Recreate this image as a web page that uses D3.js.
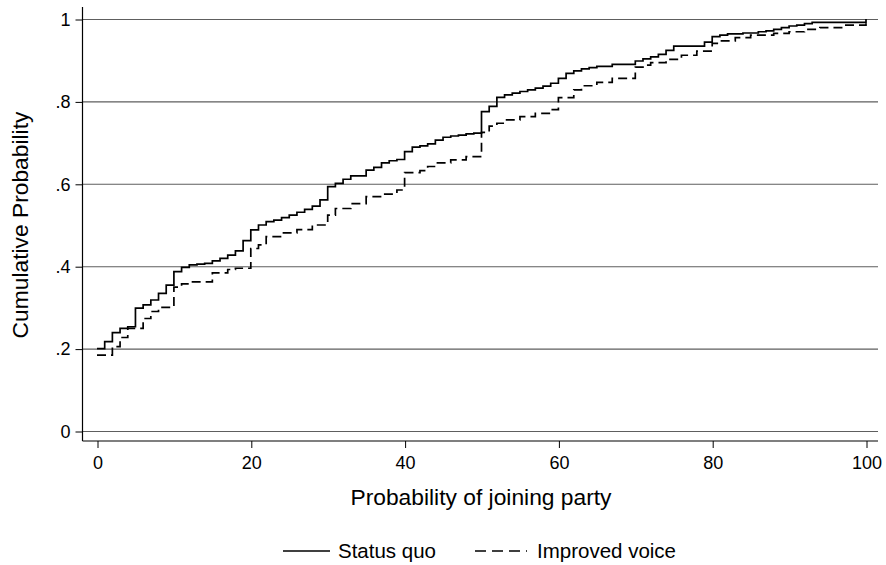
<!DOCTYPE html>
<html><head><meta charset="utf-8">
<script src="https://cdn.jsdelivr.net/npm/d3@7"></script>
<style>
html,body{margin:0;padding:0;background:#fff;}
svg{display:block;font-family:"Liberation Sans",Arial,Helvetica,sans-serif;}
</style></head>
<body>
<svg id="chart" width="886" height="565"></svg>
<script>
// ---- data ----
const statusQuoX = [0,1,2,3,4,5,6,7,8,9,10,11,12,13,14,15,16,17,18,19,20,21,22,23,24,25,26,27,28,29,30,31,32,33,35,36,37,38,39,40,41,42,43,44,45,46,47,48,49,50,51,52,53,54,55,56,57,58,59,60,61,62,63,64,65,67,70,71,72,73,74,75,79,80,81,82,84,86,87,88,89,90,91,92,93,100];
const statusQuoP = [.200,.217,.239,.249,.253,.298,.306,.318,.334,.354,.387,.397,.403,.405,.407,.413,.419,.427,.437,.462,.488,.500,.508,.512,.518,.524,.531,.538,.546,.561,.593,.601,.611,.619,.633,.640,.651,.656,.659,.678,.689,.692,.697,.706,.713,.716,.718,.721,.723,.775,.788,.810,.816,.820,.824,.828,.832,.837,.844,.856,.868,.874,.879,.882,.885,.890,.898,.903,.908,.914,.924,.934,.944,.957,.961,.964,.966,.969,.971,.975,.979,.983,.985,.989,.992,1.0];
const improvedX = [0,2,3,4,6,7,8,10,11,12,15,17,18,20,21,22,24,26,28,30,31,33,35,37,39,40,42,43,44,46,48,50,51,52,53,55,57,59,60,62,63,65,67,70,71,72,74,76,78,80,81,83,85,88,90,92,94,97,100];
const improvedP = [.184,.205,.227,.249,.273,.290,.300,.349,.357,.362,.384,.392,.395,.443,.452,.472,.481,.489,.500,.524,.540,.552,.569,.575,.585,.627,.632,.642,.651,.658,.666,.725,.740,.747,.755,.763,.771,.780,.809,.828,.838,.846,.856,.883,.888,.894,.902,.912,.922,.941,.947,.955,.961,.965,.969,.975,.979,.985,1.0];
const xTicks = [0,20,40,60,80,100];
const yTicks = [0,.2,.4,.6,.8,1];
const yTickLabels = ["0",".2",".4",".6",".8","1"];
const seriesNames = ["Status quo","Improved voice"];
const xTitle = "Probability of joining party";
const yTitle = "Cumulative Probability";

// ---- layout ----
const svg = d3.select("#chart");
const box = {left:82.5, right:878, top:7, bottom:441};
const x = d3.scaleLinear().domain([0,100]).range([97,866]);
const y = d3.scaleLinear().domain([0,1]).range([431,19]);

// gridlines
svg.append("g").selectAll("line").data(yTicks).join("line")
  .attr("x1",box.left).attr("x2",box.right)
  .attr("y1",d=>y(d)+0.5).attr("y2",d=>y(d)+0.5)
  .attr("stroke","#5e5e5e").attr("stroke-width",1.1);

// y axis
const yAxis = d3.axisLeft(y).tickValues(yTicks).tickSize(7).tickPadding(5)
  .tickFormat((d,i)=>yTickLabels[i]);
const gy = svg.append("g").attr("transform",`translate(${box.left},0.5)`).call(yAxis);
gy.select(".domain").remove();
gy.selectAll(".tick line").attr("stroke","#000").attr("stroke-width",1);
gy.selectAll(".tick text").attr("font-size",18).attr("fill","#000")
  .attr("font-family","Liberation Sans, Arial, sans-serif");
svg.append("line").attr("x1",box.left).attr("x2",box.left)
  .attr("y1",box.top).attr("y2",box.bottom).attr("stroke","#000").attr("stroke-width",1.2);

// x axis
const xAxis = d3.axisBottom(x).tickValues(xTicks).tickSize(7).tickPadding(8)
  .tickFormat(d3.format("d"));
const gx = svg.append("g").attr("transform",`translate(0.5,${box.bottom})`).call(xAxis);
gx.select(".domain").remove();
gx.selectAll(".tick line").attr("stroke","#000").attr("stroke-width",1);
gx.selectAll(".tick text").attr("font-size",18).attr("fill","#000")
  .attr("font-family","Liberation Sans, Arial, sans-serif");
svg.append("line").attr("x1",box.left).attr("x2",box.right)
  .attr("y1",box.bottom).attr("y2",box.bottom).attr("stroke","#000").attr("stroke-width",1.2);

// lines
const line = d3.line().x(d=>x(d[0])).y(d=>y(d[1])).curve(d3.curveStepAfter);
const sq = statusQuoX.map((v,i)=>[v,statusQuoP[i]]);
const iv = improvedX.map((v,i)=>[v,improvedP[i]]);
svg.append("path").datum(iv).attr("d",line).attr("fill","none")
  .attr("stroke","#000").attr("stroke-width",1.7).attr("stroke-dasharray","9,5");
svg.append("path").datum(sq).attr("d",line).attr("fill","none")
  .attr("stroke","#000").attr("stroke-width",1.7);

// titles
svg.append("text").attr("x",481).attr("y",505).attr("text-anchor","middle")
  .attr("font-size",22.8).text(xTitle);
svg.append("text").attr("transform","translate(28,225) rotate(-90)")
  .attr("text-anchor","middle").attr("font-size",22.8).text(yTitle);

// legend
const lg = svg.append("g");
lg.append("line").attr("x1",283).attr("x2",330).attr("y1",551).attr("y2",551)
  .attr("stroke","#000").attr("stroke-width",1.7);
lg.append("text").attr("x",338).attr("y",558).attr("font-size",20.5).text(seriesNames[0]);
lg.append("line").attr("x1",475).attr("x2",527).attr("y1",551).attr("y2",551)
  .attr("stroke","#000").attr("stroke-width",1.7).attr("stroke-dasharray","11,6");
lg.append("text").attr("x",537).attr("y",558).attr("font-size",20.5).text(seriesNames[1]);
</script>
</body></html>
